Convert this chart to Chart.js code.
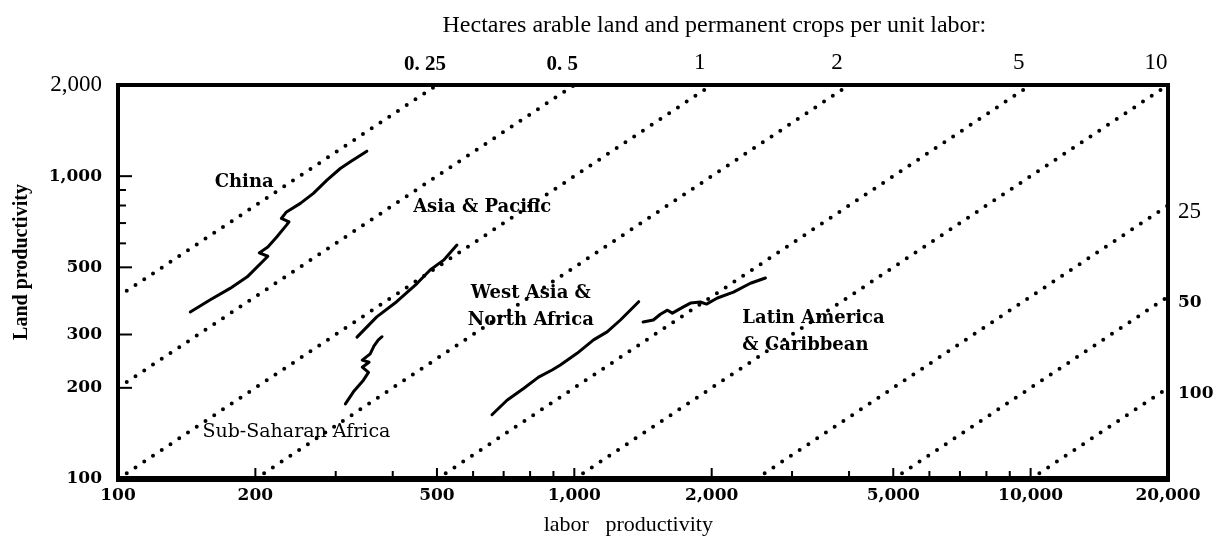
<!DOCTYPE html>
<html>
<head>
<meta charset="utf-8">
<title>Land and labor productivity</title>
<script src="https://cdn.jsdelivr.net/npm/chart.js@4.4.1/dist/chart.umd.min.js"></script>
<style>
  html, body { margin: 0; padding: 0; background: #fff; }
  #wrap { position: relative; width: 1222px; height: 536px; }
</style>
</head>
<body>
<div id="wrap"><canvas id="chart"></canvas></div>
<script>
/* ============================================================
   Land vs labor productivity, log-log, with land/labor iso-lines
   ============================================================ */

// ── DATA ──────────────────────────────────────────────────
// x = labor productivity, y = land productivity
const chinaLabor = [144, 159, 176, 192, 213, 204, 213, 223, 234, 237, 228, 234, 251, 268, 287, 307, 323, 351];
const chinaLand  = [356, 390, 426, 465, 544, 558, 584, 631, 689, 707, 725, 762, 813, 877, 970, 1060, 1115, 1209];

const asiaLabor = [334, 369, 408, 452, 483, 517, 553];
const asiaLand  = [294, 343, 385, 442, 490, 528, 592];

const ssaLabor = [315, 328, 345, 354, 343, 355, 343, 357, 364, 372, 379];
const ssaLand  = [177, 194, 212, 225, 234, 243, 247, 259, 275, 288, 295];

const wanaLabor = [660, 712, 774, 835, 894, 932, 1014, 1102, 1180, 1262, 1384];
const wanaLand  = [163, 182, 199, 217, 229, 238, 260, 288, 306, 335, 385];

const latamLabor = [1415, 1490, 1544, 1600, 1640, 1734, 1797, 1889, 1948, 2059, 2232, 2432, 2623];
const latamLand  = [330, 335, 350, 361, 353, 370, 381, 384, 378, 396, 414, 443, 461];

// hectares arable land + permanent crops per unit labor (dotted lines y = x / h)
const landPerWorker = [0.25, 0.5, 1, 2, 5, 10, 25, 50, 100];
const topRatioLabels  = ['0. 25', '0. 5', '1', '2', '5', '10'];
const sideRatioLabels = ['25', '50', '100'];

// axis ticks
const laborTicks = [100, 200, 500, 1000, 2000, 5000, 10000, 20000];
const landTicks  = [100, 200, 300, 500, 1000, 2000];
const laborMinor = [300, 400, 600, 700, 800, 900, 3000, 4000, 6000, 7000, 8000, 9000];
const landMinor  = [600, 700, 800, 900];

// region labels: text lines, anchor (labor, land), alignment
const regionText  = [['China'], ['Asia & Pacific'], ['West Asia &', 'North Africa'], ['Latin America', '& Caribbean'], ['Sub-Saharan Africa']];
const regionLabor = [189, 628, 803, 2335, 246];
const regionLand  = [955, 790, 371, 306, 143];
const regionAlign = ['center', 'center', 'center', 'left', 'center'];
const regionBold  = [true, true, true, true, false];

const X_MIN = 100, X_MAX = 20000, Y_MIN = 100, Y_MAX = 2000;

// ── STYLE ─────────────────────────────────────────────────
const TIMES = '"Liberation Serif", "Times New Roman", serif';
const BOLDSERIF = '"DejaVu Serif", serif';
const boldTick = { family: BOLDSERIF, size: 17, weight: 'bold' };
const plainTick = { family: TIMES, size: 23, weight: 'normal' };

const fmt = v => Number(v).toLocaleString('en-US');
const pts = (xs, ys) => xs.map((x, i) => ({ x, y: ys[i] }));

const curves = [
  [chinaLabor, chinaLand],
  [asiaLabor, asiaLand],
  [ssaLabor, ssaLand],
  [wanaLabor, wanaLand],
  [latamLabor, latamLand]
].map(([xs, ys]) => ({
  data: pts(xs, ys),
  showLine: true,
  borderColor: '#000',
  borderWidth: 3,
  borderJoinStyle: 'round',
  borderCapStyle: 'round',
  pointRadius: 0,
  tension: 0
}));

const isoLines = landPerWorker.map(h => ({
  data: [Math.max(X_MIN, Y_MIN * h), Math.min(X_MAX, Y_MAX * h)].map(x => ({ x, y: x / h })),
  showLine: true,
  borderColor: '#000',
  borderWidth: 4,
  borderDash: [0, 10.5],
  borderCapStyle: 'round',
  pointRadius: 0
}));

const topTickValues = landPerWorker.slice(0, topRatioLabels.length).map(h => h * Y_MAX);
const sideTickValues = landPerWorker.slice(topRatioLabels.length).map(h => X_MAX / h);

const setTicks = values => s => { s.ticks = values.map(v => ({ value: v })); };
const noGrid = { display: false, drawTicks: false };

// ── FRAME, INWARD TICKS, LABELS, TITLES ──────────────────
const framePlugin = {
  id: 'frame',
  afterDatasetsDraw(chart) {
    const { ctx, chartArea: a, scales } = chart;
    ctx.save();
    ctx.strokeStyle = '#000';
    ctx.fillStyle = '#000';

    // inward tick marks
    ctx.lineWidth = 2;
    const tickY = (v, len) => {
      const y = scales.y.getPixelForValue(v);
      ctx.beginPath(); ctx.moveTo(a.left, y); ctx.lineTo(a.left + len, y); ctx.stroke();
    };
    const tickX = (v, len) => {
      const x = scales.x.getPixelForValue(v);
      ctx.beginPath(); ctx.moveTo(x, a.bottom); ctx.lineTo(x, a.bottom - len); ctx.stroke();
    };
    landTicks.slice(1, -1).forEach(v => tickY(v, 14));
    landMinor.forEach(v => tickY(v, 8));
    laborTicks.slice(1, -1).forEach(v => tickX(v, 11));
    laborMinor.forEach(v => tickX(v, 8));

    // frame
    ctx.lineWidth = 4;
    ctx.strokeRect(a.left, a.top, a.right - a.left, a.bottom - a.top);
    ctx.lineWidth = 6;
    ctx.beginPath(); ctx.moveTo(a.left - 2, a.bottom); ctx.lineTo(a.right + 2, a.bottom); ctx.stroke();

    // region labels
    ctx.textBaseline = 'middle';
    regionText.forEach((lines, i) => {
      ctx.font = (regionBold[i] ? 'bold 18px ' : '19px ') + BOLDSERIF;
      ctx.textAlign = regionAlign[i];
      const x = scales.x.getPixelForValue(regionLabor[i]);
      const y0 = scales.y.getPixelForValue(regionLand[i]) - (lines.length - 1) * 13.5;
      lines.forEach((t, j) => ctx.fillText(t, x, y0 + j * 27));
    });

    // titles
    const w = a.right - a.left;
    ctx.textAlign = 'center';
    ctx.textBaseline = 'alphabetic';
    ctx.font = '24px ' + TIMES;
    ctx.fillText('Hectares arable land and permanent crops per unit labor:', a.left + 0.568 * w, a.top - 53);

    ctx.font = '22px ' + TIMES;
    ctx.textBaseline = 'middle';
    ctx.fillText('labor   productivity', a.left + 0.486 * w, a.bottom + 46);

    ctx.translate(a.left - 96, a.top + 177);
    ctx.rotate(-Math.PI / 2);
    ctx.font = 'bold 20px ' + TIMES;
    ctx.fillText('Land productivity', 0, 0);

    ctx.restore();
  }
};

// ── CHART ─────────────────────────────────────────────────
new Chart(document.getElementById('chart'), {
  type: 'scatter',
  data: { datasets: [...curves, ...isoLines] },
  options: {
    responsive: true,
    maintainAspectRatio: false,
    animation: false,
    events: [],
    layout: { padding: 0 },
    plugins: {
      legend: { display: false },
      tooltip: { enabled: false }
    },
    scales: {
      x: {
        type: 'logarithmic', position: 'bottom', min: X_MIN, max: X_MAX,
        afterFit: s => { s.height = 57; },
        afterBuildTicks: setTicks(laborTicks),
        grid: noGrid, border: { display: false },
        ticks: { autoSkip: false, maxRotation: 0, padding: 6, color: '#000', font: boldTick, callback: v => fmt(v) }
      },
      x2: {
        type: 'logarithmic', position: 'top', min: X_MIN, max: X_MAX,
        afterFit: s => { s.height = 85; },
        afterBuildTicks: setTicks(topTickValues),
        grid: noGrid, border: { display: false },
        ticks: {
          autoSkip: false, maxRotation: 0, padding: 8, labelOffset: -12, color: '#000',
          font: c => (c.index < 2 ? { family: TIMES, size: 21, weight: 'bold' } : plainTick),
          callback: (v, i) => topRatioLabels[i]
        }
      },
      y: {
        type: 'logarithmic', position: 'left', min: Y_MIN, max: Y_MAX,
        afterFit: s => { s.width = 118; },
        afterBuildTicks: setTicks(landTicks),
        grid: noGrid, border: { display: false },
        ticks: {
          autoSkip: false, padding: 16, color: '#000',
          font: c => (c.tick && c.tick.value === Y_MAX ? plainTick : boldTick),
          callback: v => fmt(v)
        }
      },
      y2: {
        type: 'logarithmic', position: 'right', min: Y_MIN, max: Y_MAX,
        afterFit: s => { s.width = 54; },
        afterBuildTicks: setTicks(sideTickValues),
        grid: noGrid, border: { display: false },
        ticks: {
          autoSkip: false, padding: 10, labelOffset: 6, color: '#000',
          font: c => (c.index === 0 ? plainTick : boldTick),
          callback: (v, i) => sideRatioLabels[i]
        }
      }
    }
  },
  plugins: [framePlugin]
});
</script>
</body>
</html>
